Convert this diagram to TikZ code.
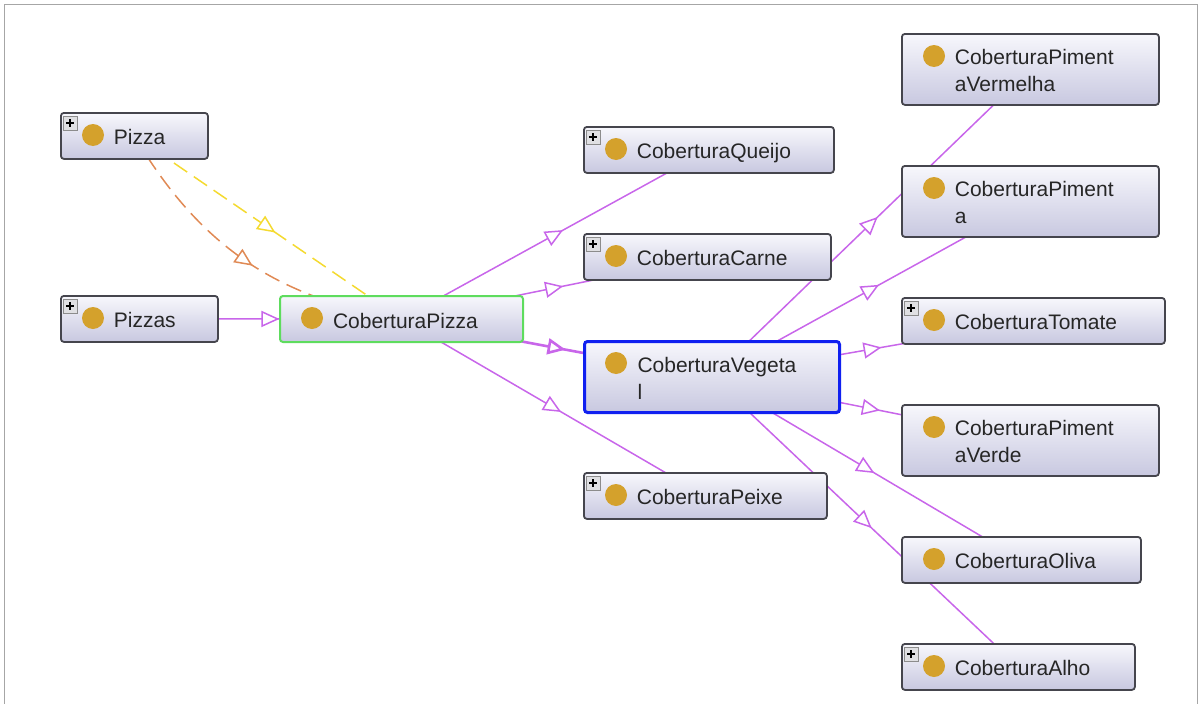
\documentclass[tikz,border=0pt]{standalone}
\usepackage{fontspec}
\setmainfont{Liberation Sans}
\usetikzlibrary{arrows.meta, backgrounds, decorations.markings}

\definecolor{isa}{HTML}{C866EA}
\definecolor{dotc}{HTML}{D4A12C}
\definecolor{rim}{HTML}{45454D}
\definecolor{topc}{HTML}{F7F7FC}
\definecolor{botc}{HTML}{C8C8E0}
\definecolor{yel}{HTML}{F4DA30}
\definecolor{ora}{HTML}{E08A55}
\definecolor{selg}{HTML}{5EDC5E}
\definecolor{selb}{HTML}{1020F0}

\tikzset{every node/.append style={execute at begin node={\hyphenpenalty=10000\exhyphenpenalty=10000\relax}}}

% the small expand box in the top left corner of a class
\newcommand{\plusmark}[1]{%
  \draw[draw=black!45,fill=blue!8!black!12,line width=.8pt]
    ([shift={(3,4)}]#1.north west) rectangle ([shift={(17,18)}]#1.north west);
  \draw[black,line width=1.4pt]
    ([shift={(6,11)}]#1.north west) -- ([shift={(14,11)}]#1.north west)
    ([shift={(10,7)}]#1.north west) -- ([shift={(10,15)}]#1.north west);}
% the class bullet
\newcommand{\classdot}[1]{%
  \fill[dotc] ([shift={(33,23)}]#1.north west) circle[radius=11pt];}

\begin{document}
\begin{tikzpicture}[x=1pt,y=-1pt,
  cls/.style={draw=rim,line width=1.8pt,rounded corners=3pt,top color=topc,bottom color=botc,
    anchor=north west,inner xsep=0pt,inner ysep=0pt,text width=#1,minimum height=46pt,align=left,
    text height=19pt,text depth=1pt,font=\fontsize{21}{27}\selectfont,text=black!85,
    execute at begin node={\leftskip=53pt}},
  tall/.style={minimum height=71pt,text depth=28pt},
  sub/.style={color=isa,line width=1.5pt,postaction={decorate},
    decoration={markings,mark=at position .5 with {\arrow[xshift=9pt]{Triangle[length=18pt,width=16pt,fill=white]}}}},
  dom/.style={sub,dash pattern=on 16pt off 8pt}]
  \useasboundingbox (0,0) rectangle (1203,704);

  % left column
  \node[cls=147pt] (pizza) at (60,112) {Pizza};
  \node[cls=157pt] (pizzas) at (60,295) {Pizzas};
  \node[cls=243pt,draw=selg,line width=2pt] (cpizza) at (279,295) {CoberturaPizza};

  % middle column
  \node[cls=250pt] (queijo) at (583,126) {CoberturaQueijo};
  \node[cls=247pt] (carne) at (583,233) {CoberturaCarne};
  \node[cls=255pt,tall,draw=selb,line width=3pt] (vegetal) at (583,340) {CoberturaVegeta\\l};
  \node[cls=243pt] (peixe) at (583,472) {CoberturaPeixe};

  % right column
  \node[cls=257pt,tall] (pverm) at (901,33) {CoberturaPiment\\aVermelha};
  \node[cls=257pt,tall] (piment) at (901,165) {CoberturaPiment\\a};
  \node[cls=263pt] (tomate) at (901,297) {CoberturaTomate};
  \node[cls=257pt,tall] (pverde) at (901,404) {CoberturaPiment\\aVerde};
  \node[cls=239pt] (oliva) at (901,536) {CoberturaOliva};
  \node[cls=233pt] (alho) at (901,643) {CoberturaAlho};

  \foreach \n in {pizza,pizzas,cpizza,queijo,carne,vegetal,peixe,pverm,piment,tomate,pverde,oliva,alho}
    {\classdot{\n}}
  \foreach \n in {pizza,pizzas,queijo,carne,peixe,tomate,alho}
    {\plusmark{\n}}

  \begin{scope}[on background layer]
    \draw[black!35,line width=.8pt] (4,704) -- (4,4) -- (1197,4) -- (1197,704);

    \draw[sub] (pizzas.center) -- (cpizza.center);
    \draw[dom,color=yel] (pizza.center) -- (cpizza.center);
    \draw[dom,color=ora] (pizza.center) to[bend right=25] (cpizza.center);

    \draw[sub] (cpizza.center) -- (queijo.center);
    \draw[sub] (cpizza.center) -- (carne.center);
    \draw[sub,line width=2.6pt] (cpizza.center) -- (vegetal.center);
    \draw[sub] (cpizza.center) -- (peixe.center);

    \draw[sub] (vegetal.center) -- (pverm.center);
    \draw[sub] (vegetal.center) -- (piment.center);
    \draw[sub] (vegetal.center) -- (tomate.center);
    \draw[sub] (vegetal.center) -- (pverde.center);
    \draw[sub] (vegetal.center) -- (oliva.center);
    \draw[sub] (vegetal.center) -- (alho.center);
  \end{scope}
\end{tikzpicture}
\end{document}
